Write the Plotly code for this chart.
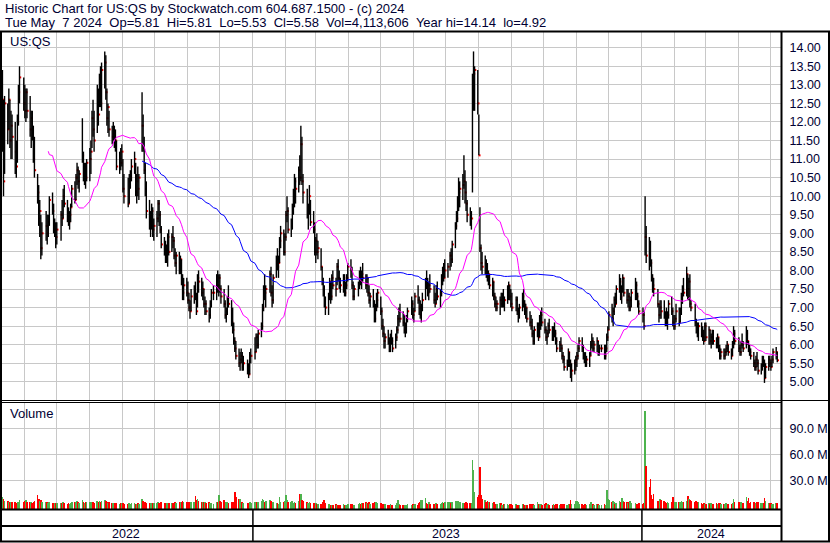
import pandas as pd
import plotly.graph_objects as go

# ---------------- data ----------------
holidays = ['2022-05-30', '2022-06-20', '2022-07-04', '2022-09-05', '2022-11-24', '2022-12-26',
            '2023-01-02', '2023-01-16', '2023-02-20', '2023-04-07', '2023-05-29', '2023-06-19',
            '2023-07-04', '2023-09-04', '2023-11-23', '2023-12-25',
            '2024-01-01', '2024-01-15', '2024-02-19', '2024-03-29']

high = [
    13.4, 12.6, 12.7, 12.5, 12.9, 12.6, 12.3, 12.2, 12.0, 11.5, 12.2, 13.0, 13.5, 13.2,  # May 22
    13.0, 12.9, 12.9, 12.7, 12.3, 12.3, 11.9, 11.6, 10.6, 10.3, 9.9, 9.5, 9.3, 9.6, 9.5, 9.5, 10.0, 10.1, 9.8, 9.4, 9.3,  # Jun
    9.3, 9.6, 9.9, 10.2, 10.3, 9.9, 9.7, 9.6, 9.8, 10.3, 10.4, 10.6, 10.9, 10.8, 10.7, 12.1, 11.2, 10.9, 10.9, 11.0,  # Jul
    11.3, 11.5, 12.3, 12.6, 12.3, 13.0, 12.9, 13.3, 13.5, 13.6, 13.9, 13.8, 12.9, 12.5, 12.3, 11.9, 12.0, 11.9, 11.8, 11.5, 11.2, 11.3, 11.4,  # Aug
    11.0, 10.6, 10.5, 10.6, 10.7, 11.0, 11.2, 10.9, 10.6, 10.8, 10.6, 12.8, 12.2, 11.6, 10.9, 10.4, 9.9, 9.6, 9.8, 9.7, 9.4,  # Sep
    9.6, 9.9, 9.9, 9.6, 9.2, 8.9, 8.8, 8.7, 9.0, 9.1, 9.0, 9.2, 8.9, 8.6, 8.5, 8.5, 8.4, 8.3, 7.9, 7.8, 7.8,  # Oct
    7.7, 7.4, 7.2, 7.5, 7.6, 7.7, 7.4, 7.9, 8.0, 7.8, 7.7, 7.5, 7.3, 7.2, 7.0, 7.2, 7.5, 7.6, 7.9, 8.0, 7.9,  # Nov
    7.9, 7.6, 7.5, 7.2, 7.0, 7.3, 7.6, 7.2, 7.0, 6.6, 6.2, 6.1, 5.9, 5.8, 5.9, 5.8, 5.7, 5.6, 5.5, 5.8, 5.9,  # Dec
    6.2, 6.3, 6.3, 6.4, 6.6, 7.1, 7.6, 7.9, 7.6, 8.0, 8.1, 7.6, 7.9, 8.4, 8.6, 8.4, 8.9, 9.2, 9.1, 9.0,  # Jan 23
    9.6, 10.0, 9.7, 9.4, 9.8, 10.2, 10.6, 10.5, 10.8, 11.1, 11.9, 11.6, 10.6, 10.2, 9.8, 10.3, 9.9, 9.6, 9.3,  # Feb
    8.9, 9.0, 8.8, 8.6, 8.1, 7.8, 7.6, 7.3, 7.4, 7.8, 7.7, 7.9, 8.0, 7.8, 8.2, 8.3, 8.0, 7.8, 7.9, 7.9, 7.7, 7.9, 8.2,  # Mar
    8.3, 8.1, 7.7, 7.6, 7.7, 8.0, 8.1, 8.0, 8.2, 7.9, 7.9, 7.8, 7.6, 7.4, 7.5, 7.2, 7.1, 7.4, 7.5,  # Apr
    7.3, 7.0, 6.7, 6.5, 6.3, 6.4, 6.2, 6.3, 6.4, 6.2, 6.3, 6.5, 6.8, 7.0, 7.1, 6.9, 6.8, 6.6, 6.8, 7.0, 7.3, 7.2,  # May
    7.0, 7.4, 7.6, 7.3, 7.2, 7.1, 7.4, 7.8, 8.0, 7.8, 7.7, 7.9, 7.6, 7.4, 7.6, 7.7, 7.5, 7.9, 8.1, 8.2, 8.3,  # Jun
    8.2, 8.5, 8.6, 8.8, 9.3, 9.6, 10.0, 10.5, 10.4, 10.6, 11.1, 10.7, 10.4, 9.9, 9.7, 9.6, 13.3, 13.9, 13.5, 13.4,  # Jul
    12.2, 9.7, 8.7, 8.5, 8.4, 8.3, 8.2, 8.0, 7.9, 7.8, 7.7, 7.4, 7.3, 7.2, 7.3, 7.4, 7.4, 7.5, 7.3, 7.6, 7.7, 7.6, 7.5,  # Aug
    7.4, 7.3, 7.3, 7.0, 7.1, 7.4, 7.5, 7.2, 7.1, 7.0, 6.9, 6.8, 6.7, 6.4, 6.5, 6.6, 6.6, 6.8, 6.9, 7.0,  # Sep
    6.7, 6.5, 6.4, 6.6, 6.7, 6.5, 6.5, 6.6, 6.4, 6.2, 6.1, 6.2, 6.0, 5.8, 5.7, 5.6, 5.9, 5.8, 5.6, 5.5, 5.6, 5.7,  # Oct
    5.8, 6.0, 6.2, 6.2, 6.0, 5.8, 5.8, 5.7, 5.8, 6.1, 6.3, 6.2, 6.1, 6.2, 6.1, 6.0, 6.0, 6.0, 6.0, 6.3, 6.5,  # Nov
    6.9, 7.1, 7.0, 7.3, 7.4, 7.6, 7.9, 7.8, 7.6, 7.9, 7.8, 7.5, 7.5, 7.4, 7.3, 7.5, 7.8, 7.7, 7.4, 7.2,  # Dec
    7.0, 6.9, 10.0, 9.2, 8.9, 8.8, 8.3, 7.9, 7.8, 7.5, 7.1, 7.2, 7.2, 7.2, 6.9, 7.0, 6.9, 7.2, 7.3, 7.0, 6.8,  # Jan 24
    6.8, 7.1, 7.0, 7.0, 7.4, 7.6, 7.8, 8.1, 7.9, 7.8, 7.9, 7.2, 7.1, 6.7, 6.6, 6.6, 6.6, 6.5, 6.4, 6.6,  # Feb
    6.6, 6.5, 6.4, 6.3, 6.4, 6.4, 6.2, 6.3, 6.2, 6.0, 5.9, 5.9, 5.9, 6.0, 6.1, 6.0, 5.9, 6.1, 6.5, 6.4,  # Mar
    6.2, 6.0, 6.1, 6.3, 6.1, 6.5, 6.4, 6.1, 6.0, 5.9, 5.8, 5.6, 5.7, 5.8, 5.6, 5.5, 5.7, 5.7, 5.6, 5.5, 5.7, 5.7,  # Apr
    5.6, 5.7, 5.9, 5.94, 5.81,  # May 24
]

low = [
    11.2, 10.0, 10.6, 11.4, 11.8, 11.3, 11.0, 11.0, 10.6, 10.5, 10.9, 11.9, 12.5, 12.3,
    12.1, 12.0, 12.1, 11.6, 11.3, 11.5, 10.9, 10.5, 9.8, 9.2, 8.9, 8.3, 8.4, 8.8, 8.7, 8.9, 9.2, 9.5, 9.0, 8.9, 8.6,
    8.7, 8.8, 9.2, 9.4, 9.7, 9.3, 9.2, 9.1, 9.3, 9.7, 9.8, 9.9, 10.3, 10.2, 10.1, 10.9, 10.4, 10.3, 10.2, 10.4,
    10.4, 10.6, 11.3, 11.6, 11.2, 11.7, 11.9, 12.4, 12.4, 12.3, 12.9, 12.6, 11.9, 11.7, 11.6, 11.4, 11.5, 11.3, 11.2, 10.7, 10.6, 10.7, 10.8,
    10.1, 9.8, 9.7, 9.8, 10.2, 10.4, 10.6, 10.0, 9.8, 10.0, 9.9, 11.2, 11.2, 10.6, 10.0, 9.4, 9.1, 8.9, 9.1, 8.9, 8.8,
    8.9, 9.3, 9.2, 9.0, 8.6, 8.4, 8.2, 8.2, 8.1, 8.4, 8.5, 8.6, 8.3, 8.1, 7.9, 7.9, 7.9, 7.6, 7.2, 7.2, 7.3,
    7.1, 6.9, 6.7, 6.9, 7.1, 7.2, 6.8, 7.0, 7.4, 7.3, 7.2, 7.0, 6.8, 6.8, 6.6, 6.7, 7.0, 7.2, 7.2, 7.4, 7.3,
    7.4, 7.1, 7.0, 6.7, 6.6, 6.8, 7.0, 6.5, 6.3, 6.0, 5.8, 5.6, 5.4, 5.3, 5.5, 5.3, 5.3, 5.2, 5.1, 5.2, 5.5,
    5.6, 5.8, 5.9, 5.9, 6.2, 6.4, 6.9, 7.2, 7.0, 7.4, 7.3, 7.0, 7.1, 7.8, 8.0, 7.8, 8.2, 8.6, 8.4, 8.4,
    8.8, 9.3, 9.0, 8.9, 9.1, 9.5, 9.7, 9.8, 10.1, 10.3, 10.4, 10.3, 9.8, 9.4, 9.1, 9.5, 9.2, 9.0, 8.4,
    8.2, 8.4, 8.3, 8.0, 7.6, 7.3, 7.0, 6.8, 6.8, 7.2, 7.1, 7.2, 7.5, 7.3, 7.6, 7.7, 7.5, 7.4, 7.4, 7.3, 7.3, 7.5, 7.7,
    7.8, 7.5, 7.2, 7.2, 7.3, 7.5, 7.6, 7.5, 7.7, 7.5, 7.4, 7.3, 7.1, 7.0, 7.0, 6.6, 6.6, 6.9, 7.0,
    6.8, 6.4, 6.2, 5.9, 5.9, 6.0, 5.8, 5.8, 6.0, 5.8, 5.9, 6.1, 6.3, 6.5, 6.6, 6.5, 6.3, 6.2, 6.3, 6.6, 6.8, 6.7,
    6.6, 6.9, 7.1, 6.8, 6.7, 6.6, 6.9, 7.2, 7.5, 7.3, 7.2, 7.4, 7.1, 7.0, 7.1, 7.2, 7.0, 7.3, 7.6, 7.7, 7.8,
    7.8, 8.0, 8.1, 8.2, 8.6, 9.1, 9.3, 9.6, 9.7, 9.9, 10.2, 9.8, 9.6, 9.3, 9.2, 9.1, 10.1, 12.3, 12.3, 12.2,
    11.1, 8.5, 8.0, 7.9, 7.9, 7.8, 7.7, 7.6, 7.5, 7.3, 7.2, 7.0, 6.9, 6.9, 6.8, 7.0, 7.0, 7.0, 6.9, 7.1, 7.2, 7.2, 7.0,
    6.9, 6.9, 6.8, 6.6, 6.7, 6.9, 7.0, 6.8, 6.7, 6.6, 6.5, 6.4, 6.2, 6.0, 6.0, 6.2, 6.1, 6.2, 6.4, 6.5,
    6.3, 6.1, 6.0, 6.2, 6.3, 6.1, 6.1, 6.2, 6.0, 5.8, 5.8, 5.8, 5.6, 5.5, 5.3, 5.3, 5.4, 5.4, 5.1, 5.0, 5.2, 5.3,
    5.4, 5.6, 5.8, 5.8, 5.6, 5.5, 5.4, 5.4, 5.4, 5.7, 5.9, 5.8, 5.8, 5.8, 5.7, 5.7, 5.8, 5.6, 5.6, 5.8, 6.1,
    6.4, 6.6, 6.5, 6.8, 7.0, 7.1, 7.4, 7.2, 7.1, 7.4, 7.3, 7.1, 7.0, 6.9, 6.9, 7.0, 7.2, 7.2, 7.0, 6.8,
    6.6, 6.4, 8.4, 8.2, 8.0, 8.1, 7.7, 7.4, 7.3, 7.0, 6.6, 6.7, 6.7, 6.7, 6.5, 6.5, 6.4, 6.7, 6.8, 6.5, 6.4,
    6.4, 6.6, 6.5, 6.6, 6.8, 7.1, 7.3, 7.3, 7.2, 7.2, 7.0, 6.9, 6.5, 6.3, 6.2, 6.1, 6.2, 6.1, 6.0, 6.1,
    6.1, 6.0, 6.0, 5.9, 6.0, 6.0, 5.9, 5.9, 5.8, 5.6, 5.6, 5.6, 5.6, 5.7, 5.8, 5.7, 5.6, 5.7, 5.9, 6.0,
    5.8, 5.7, 5.7, 5.9, 5.8, 5.9, 6.0, 5.8, 5.7, 5.6, 5.4, 5.3, 5.3, 5.4, 5.2, 5.2, 5.3, 5.4, 4.97, 5.1, 5.3, 5.4,
    5.3, 5.4, 5.5, 5.6, 5.53,
]

close = [
    12.6, 10.4, 12.5, 11.8, 12.6, 11.5, 11.9, 11.6, 11.2, 10.8, 12.0, 12.8, 13.2, 12.5,
    12.3, 12.8, 12.3, 11.8, 12.1, 11.7, 11.0, 10.7, 10.1, 9.4, 9.6, 8.6, 9.0, 9.2, 9.0, 9.3, 9.9, 9.6, 9.1, 9.1, 8.9,
    9.1, 9.5, 9.4, 10.0, 9.8, 9.4, 9.3, 9.5, 9.7, 10.2, 9.9, 10.5, 10.7, 10.4, 10.6, 11.1, 10.6, 10.8, 10.5, 10.9,
    11.0, 11.2, 12.1, 11.8, 11.5, 12.7, 12.2, 13.1, 12.5, 13.4, 13.6, 12.8, 12.1, 12.4, 11.8, 11.6, 11.8, 11.6, 11.5, 10.8, 11.0, 10.9, 11.2,
    10.2, 10.0, 9.8, 10.4, 10.5, 10.8, 11.0, 10.1, 10.4, 10.2, 10.5, 11.9, 11.3, 10.7, 10.2, 9.6, 9.2, 9.3, 9.6, 9.1, 9.2,
    9.4, 9.8, 9.5, 9.1, 8.7, 8.6, 8.4, 8.5, 8.9, 8.5, 8.9, 8.8, 8.4, 8.2, 8.4, 8.0, 8.3, 7.7, 7.4, 7.6, 7.4,
    7.2, 7.0, 6.9, 7.3, 7.4, 7.3, 6.9, 7.8, 7.7, 7.4, 7.5, 7.1, 7.1, 6.9, 6.8, 7.1, 7.4, 7.4, 7.7, 7.6, 7.8,
    7.5, 7.3, 7.1, 6.8, 6.9, 7.2, 7.1, 6.6, 6.4, 6.1, 5.9, 5.7, 5.5, 5.6, 5.7, 5.4, 5.5, 5.3, 5.2, 5.7, 5.7,
    5.8, 6.2, 6.0, 6.3, 6.5, 7.0, 7.5, 7.4, 7.5, 7.9, 7.4, 7.2, 7.8, 8.3, 8.1, 8.2, 8.8, 9.0, 8.5, 8.9,
    9.5, 9.6, 9.1, 9.2, 9.7, 9.9, 10.4, 10.2, 10.7, 10.5, 11.4, 10.4, 10.1, 9.5, 9.6, 10.0, 9.3, 9.1, 8.5,
    8.8, 8.5, 8.6, 8.1, 7.7, 7.5, 7.1, 7.0, 7.3, 7.7, 7.3, 7.8, 7.6, 7.5, 8.1, 7.8, 7.7, 7.6, 7.8, 7.4, 7.6, 7.8, 8.1,
    8.0, 7.6, 7.3, 7.5, 7.6, 7.9, 7.7, 7.9, 7.8, 7.6, 7.8, 7.4, 7.2, 7.3, 7.1, 6.7, 7.0, 7.2, 7.4,
    6.9, 6.5, 6.3, 6.1, 6.2, 6.1, 6.0, 6.2, 6.1, 5.9, 6.2, 6.4, 6.7, 6.9, 6.7, 6.6, 6.4, 6.5, 6.7, 6.9, 7.1, 6.8,
    6.9, 7.3, 7.2, 7.0, 6.8, 7.0, 7.2, 7.7, 7.6, 7.4, 7.6, 7.5, 7.2, 7.1, 7.5, 7.3, 7.4, 7.8, 7.9, 7.8, 8.0,
    8.1, 8.4, 8.3, 8.7, 9.2, 9.4, 9.8, 10.1, 10.2, 10.3, 10.4, 10.1, 9.8, 9.5, 9.4, 9.4, 12.9, 13.3, 13.4, 12.5,
    11.1, 8.6, 8.2, 8.1, 8.2, 8.0, 7.8, 7.9, 7.6, 7.7, 7.3, 7.1, 7.0, 7.1, 7.2, 7.1, 7.3, 7.1, 7.2, 7.5, 7.6, 7.3, 7.1,
    7.0, 7.2, 6.9, 6.8, 7.0, 7.3, 7.1, 6.9, 7.0, 6.7, 6.6, 6.5, 6.3, 6.1, 6.4, 6.5, 6.2, 6.7, 6.8, 6.6,
    6.4, 6.2, 6.3, 6.5, 6.4, 6.2, 6.4, 6.3, 6.1, 5.9, 6.0, 5.9, 5.7, 5.6, 5.4, 5.5, 5.8, 5.5, 5.2, 5.3, 5.5, 5.6,
    5.7, 5.9, 6.1, 5.9, 5.7, 5.6, 5.5, 5.6, 5.7, 6.0, 6.1, 5.9, 6.0, 6.1, 5.8, 5.9, 5.9, 5.7, 5.9, 6.2, 6.4,
    6.8, 6.7, 6.9, 7.2, 7.1, 7.5, 7.7, 7.3, 7.5, 7.8, 7.4, 7.2, 7.3, 7.0, 7.2, 7.4, 7.6, 7.3, 7.1, 6.9,
    6.8, 6.5, 8.9, 8.4, 8.3, 8.2, 7.8, 7.6, 7.5, 7.1, 6.8, 7.0, 6.9, 6.8, 6.7, 6.6, 6.8, 7.1, 6.9, 6.6, 6.5,
    6.7, 6.9, 6.6, 6.9, 7.3, 7.5, 7.4, 7.9, 7.5, 7.7, 7.1, 7.0, 6.6, 6.5, 6.3, 6.5, 6.3, 6.2, 6.1, 6.5,
    6.2, 6.4, 6.1, 6.2, 6.3, 6.1, 6.0, 6.2, 5.9, 5.7, 5.8, 5.7, 5.8, 5.9, 6.0, 5.8, 5.7, 6.0, 6.3, 6.1,
    5.9, 5.8, 6.0, 6.0, 5.9, 6.3, 6.1, 5.9, 5.8, 5.7, 5.5, 5.4, 5.6, 5.5, 5.3, 5.4, 5.6, 5.5, 5.1, 5.4, 5.6, 5.5,
    5.4, 5.6, 5.8, 5.8, 5.58,
]

volume_m = [  # millions of shares
    11, 9, 6, 6.5, 5, 5.5, 4.5, 5, 4.5, 4, 5, 4.5, 7, 5,
    6, 7, 5, 4.5, 5, 4, 4.5, 6, 13, 8, 6, 7, 5.5, 5, 4.5, 4, 5, 3.5, 4, 3.5, 4,
    3.5, 4, 3.5, 4.5, 3.5, 3, 3.5, 3, 4, 5, 4.5, 5, 6, 4.5, 4, 7, 5, 4, 4.5, 5,
    4.5, 4, 5.5, 5, 4, 6, 5, 6.5, 5, 6, 7, 6, 5, 4, 4.5, 3.5, 4, 3.5, 3.5, 4, 3, 3.5, 4,
    3.5, 3, 3, 3.5, 3, 3.5, 3.5, 3, 3, 3.5, 3, 8, 6, 5, 4.5, 4, 4, 3.5, 4, 3.5, 4,
    4, 4.5, 4, 3.5, 4.5, 3.5, 4, 3.5, 4, 3.5, 4, 3.5, 4, 4.5, 4, 4.5, 5, 5.5, 6, 5, 4.5,
    4.5, 5, 4, 5, 4.5, 12, 7, 8, 6, 5, 4.5, 5.5, 5, 4, 4.5, 4, 3.5, 3, 5.5, 4.5, 13,
    6, 5, 7, 5.5, 4.5, 5, 4, 5, 4.5, 5.5, 17, 11, 9, 8, 5, 4.5, 4, 4, 3.5, 4.5, 4,
    5, 5, 5.5, 4.5, 6, 8, 7, 5, 6.5, 7.5, 6, 4, 5, 3.5, 4, 3, 11, 5, 4.5, 6,
    13, 7, 5, 4.5, 6, 4, 5.5, 4, 6, 14, 14, 7, 6, 5, 4, 5, 3.5, 4, 3.5,
    3.5, 2.5, 3, 2.5, 3, 5, 7, 4, 3, 2.5, 2, 2, 1.5, 2.5, 2, 1.5, 2, 1.5, 2.5, 2, 1.5, 2, 2.5,
    2.5, 3, 2, 2, 2.5, 3.5, 3, 4, 3.5, 5, 4, 3.5, 4.5, 3, 4, 5, 5.5, 4.5, 4,
    4, 3, 2.5, 2, 2.5, 1.5, 2, 2.5, 1.5, 2, 1.5, 3.5, 7, 3, 2, 1.5, 1, 1.5, 2, 2.5, 2, 2.5,
    2, 2.5, 2, 4, 5, 7, 7, 9.5, 4, 3, 5, 2.5, 3, 2, 3.5, 2.5, 3, 4, 4.5, 3.5, 5,
    5, 4.5, 4, 5, 6, 6, 6.5, 6, 5, 4, 4, 3.5, 4.5, 4, 3.5, 4, 53, 41.5, 16.5, 10.7,
    12.7, 45, 12.7, 8, 7.3, 5.5, 6, 4.5, 5, 3.5, 4.5, 3, 2.5, 3, 4, 3.5, 2, 2.5, 3, 2.5, 2, 3, 2.5,
    2, 2.5, 2, 1.5, 2, 3, 2.5, 2, 1.5, 2, 2.5, 2, 2.5, 3, 2, 5.3, 2.5, 3, 2.5, 2,
    2.5, 4.3, 2, 2.5, 2, 1.5, 2.5, 2, 3, 2.5, 2, 2.5, 3, 2, 2.5, 1.5, 2.5, 3, 7.3, 3, 2.5, 6,
    6, 4.5, 3, 2.5, 2, 2.5, 3, 2, 3, 5.3, 3, 2.5, 2, 3, 2.5, 2, 1.5, 2.5, 2, 18.8, 8,
    7.3, 5, 6, 4.5, 3, 3.5, 6, 5, 9.2, 6, 5, 5.3, 4, 5, 6.1, 3.5, 4, 3, 2.5, 3.5,
    3, 3.5, 110, 46.5, 22, 31, 12.7, 8, 13.8, 6, 5, 8, 7, 6, 5, 4, 4.5, 3.5, 5, 11, 5,
    5.3, 5, 4.5, 5, 6, 5.5, 4.5, 6, 12, 8, 7, 6, 5, 6, 5, 4.5, 3.5, 3, 3.5, 3,
    3, 3.5, 2.5, 4, 3, 2.5, 3.5, 3, 4, 3.5, 2.5, 3, 2.5, 3.5, 3, 2.5, 3, 4, 8.4, 5,
    4.6, 4, 4.5, 3.5, 4, 11, 6, 9.2, 4, 5, 5.5, 4, 3.5, 5, 4.5, 4, 3.5, 4, 9.6, 6, 4, 3.5,
    3.5, 3, 3, 4, 4.1,
]

price_ticks = [5.0, 5.5, 6.0, 6.5, 7.0, 7.5, 8.0, 8.5, 9.0, 9.5, 10.0, 10.5,
               11.0, 11.5, 12.0, 12.5, 13.0, 13.5, 14.0]
volume_ticks_m = [30, 60, 90]
year_labels = ['2022', '2023', '2024']

header1 = "Historic Chart for US:QS by Stockwatch.com 604.687.1500 - (c) 2024"
header2 = ("Tue May\u00a0\u00a07 2024\u00a0\u00a0Op=5.81\u00a0\u00a0Hi=5.81\u00a0\u00a0Lo=5.53\u00a0\u00a0"
           "Cl=5.58\u00a0\u00a0Vol=4,113,606\u00a0\u00a0Year hi=14.14\u00a0\u00a0lo=4.92")

# ---------------- derived ----------------
n = len(close)
days = pd.bdate_range('2022-05-01', '2024-05-07', freq='C', holidays=holidays)
dates = days[-n:]

ma_fast = pd.Series(close).rolling(30).mean()
ma_slow = pd.Series(close).rolling(90).mean()

hl_x, hl_y = [], []
for d, h, l in zip(dates, high, low):
    hl_x += [d, d, None]
    hl_y += [h, l, None]

vol_colors = []
for i, c in enumerate(close):
    prev = close[i - 1] if i > 0 else c
    vol_colors.append('#ff0000' if c < prev else '#4db34d')

# ---------------- geometry helpers (pixel -> paper) ----------------
W, H = 830, 543
L, R, T, B = 2, 781, 31, 509


def px(x):
    return (x - L) / (R - L)


def py(y):
    return (B - y) / (B - T)


VOL_BASE = -3.1e6
TXT = '#000033'
FONT = 'Arial, Liberation Sans, sans-serif'

fig = go.Figure()

# red close ticks (drawn first so bars partly cover them)
fig.add_trace(go.Scatter(x=dates + pd.Timedelta(hours=16), y=close, mode='markers',
                         marker=dict(symbol='square', size=2, color='#ff0000', line=dict(width=0)),
                         xaxis='x', yaxis='y', hoverinfo='skip'))
fig.add_trace(go.Scatter(x=hl_x, y=hl_y, mode='lines', line=dict(color='black', width=1.4),
                         xaxis='x', yaxis='y', hoverinfo='skip'))
fig.add_trace(go.Scatter(x=dates, y=ma_slow, mode='lines', line=dict(color='#0000ff', width=1),
                         xaxis='x', yaxis='y', hoverinfo='skip'))
fig.add_trace(go.Scatter(x=dates, y=ma_fast, mode='lines', line=dict(color='#ff00ff', width=1),
                         xaxis='x', yaxis='y', hoverinfo='skip'))
fig.add_trace(go.Bar(x=dates, y=[v * 1e6 - VOL_BASE for v in volume_m], base=VOL_BASE,
                     marker=dict(color=vol_colors, line=dict(width=0)),
                     width=1.6 * 86400000, xaxis='x2', yaxis='y2', hoverinfo='skip'))

xr = ['2022-05-10 14:00', '2024-05-10 12:00']
xcommon = dict(type='date', range=xr, showgrid=True, gridcolor='#c8c8c8', gridwidth=1,
               dtick='M1', tick0='2022-06-01', showticklabels=False, ticks='',
               zeroline=False, showline=False, fixedrange=True)

fig.update_layout(
    width=W, height=H,
    margin=dict(l=L, r=W - R, t=T, b=H - B),
    paper_bgcolor='white', plot_bgcolor='white',
    showlegend=False, bargap=0,
    font=dict(family=FONT, size=12.5, color=TXT),
    xaxis=dict(anchor='y', **xcommon),
    xaxis2=dict(anchor='y2', matches='x', **xcommon),
    yaxis=dict(domain=[py(400), 1], range=[4.51, 14.45], side='right',
               tickvals=price_ticks, ticktext=[f"{v:.2f}" for v in price_ticks],
               showgrid=True, gridcolor='#c8c8c8', gridwidth=1, zeroline=False,
               ticks='outside', ticklen=5, tickcolor='rgba(0,0,0,0)',
               tickfont=dict(size=12.5, color=TXT, family=FONT), fixedrange=True),
    yaxis2=dict(domain=[0, py(403)], range=[VOL_BASE, 119.2e6], side='right',
                tickvals=[v * 1e6 for v in volume_ticks_m],
                ticktext=[f"{v:.1f} M" for v in volume_ticks_m],
                showgrid=True, gridcolor='#c8c8c8', gridwidth=1, zeroline=False,
                ticks='outside', ticklen=5, tickcolor='rgba(0,0,0,0)',
                tickfont=dict(size=12.5, color=TXT, family=FONT), fixedrange=True),
)

shapes = []


def hline(y, x0, x1, w):
    shapes.append(dict(type='line', xref='paper', yref='paper', x0=px(x0), x1=px(x1),
                       y0=py(y), y1=py(y), line=dict(color='black', width=w)))


def vline(x, y0, y1, w):
    shapes.append(dict(type='line', xref='paper', yref='paper', x0=px(x), x1=px(x),
                       y0=py(y0), y1=py(y1), line=dict(color='black', width=w)))


hline(31.5, 0, 830, 2)      # header separator
hline(400.5, 0, 830, 1)     # price / volume separator
hline(402.5, 0, 781, 1)
hline(509.5, 0, 781, 2)
hline(526, 0, 781, 2)
hline(541.5, 0, 830, 2)
vline(1, 31, 542, 2)
vline(781.5, 31, 542, 2)
vline(829, 31, 542, 2)
for yr in ['2023-01-01', '2024-01-01']:
    shapes.append(dict(type='line', xref='x', yref='paper', x0=yr, x1=yr,
                       y0=py(510), y1=py(541), line=dict(color='black', width=1.5)))

annotations = [
    dict(text=header1, x=px(3), y=py(8.5), xref='paper', yref='paper', xanchor='left',
         yanchor='middle', showarrow=False, font=dict(size=13, color=TXT, family=FONT)),
    dict(text=header2, x=px(3), y=py(23), xref='paper', yref='paper', xanchor='left',
         yanchor='middle', showarrow=False, font=dict(size=13, color=TXT, family=FONT)),
    dict(text='US:QS', x=px(8), y=py(42), xref='paper', yref='paper', xanchor='left',
         yanchor='middle', showarrow=False, font=dict(size=13, color=TXT, family=FONT)),
    dict(text='Volume', x=px(8), y=py(413), xref='paper', yref='paper', xanchor='left',
         yanchor='middle', showarrow=False, font=dict(size=13, color=TXT, family=FONT)),
]
for lab, xc in zip(year_labels, [126, 446, 711]):
    annotations.append(dict(text=lab, x=px(xc), y=py(534), xref='paper', yref='paper',
                            xanchor='center', yanchor='middle', showarrow=False,
                            font=dict(size=12.5, color=TXT, family=FONT)))

fig.update_layout(shapes=shapes, annotations=annotations)

fig.write_html("out.html",
               config={'displayModeBar': False, 'staticPlot': True},
               post_script="document.body.style.margin='0';document.body.style.padding='0';"
                           "document.documentElement.style.overflow='hidden';")
